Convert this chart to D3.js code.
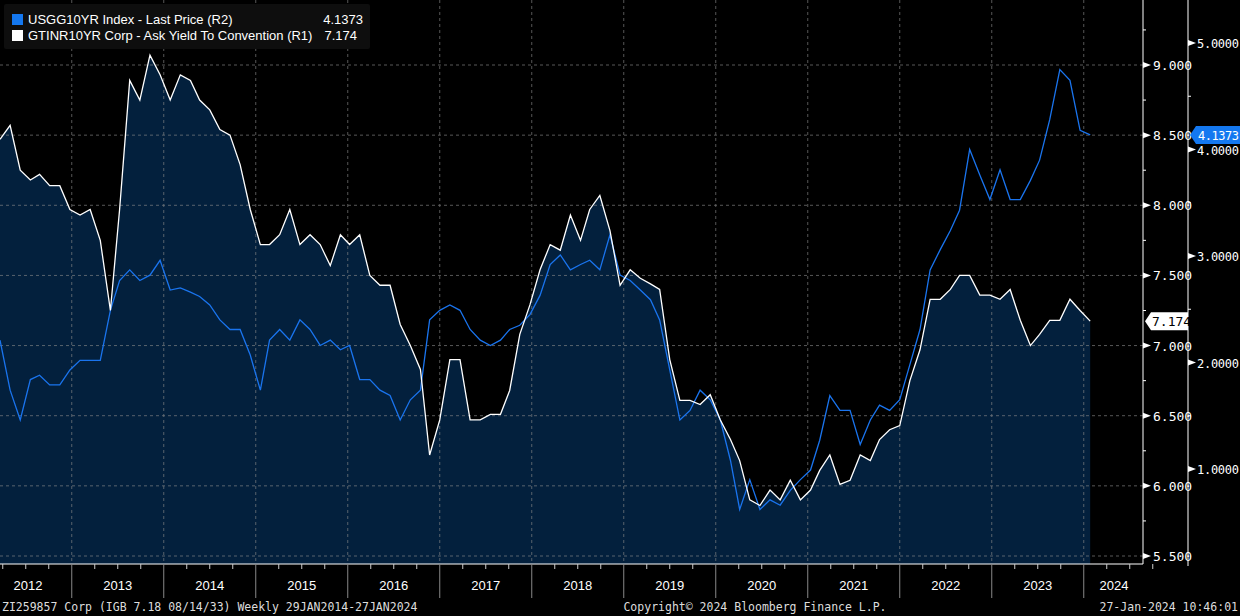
<!DOCTYPE html>
<html><head><meta charset="utf-8">
<script src="https://cdn.jsdelivr.net/npm/d3@7"></script>
<style>body{margin:0;background:#000;}svg{display:block;font-family:"DejaVu Sans Mono",monospace;}</style>
</head><body><svg id="c" width="1240" height="616"></svg>
<script>
const dates=[2012.22,2012.33,2012.44,2012.55,2012.65,2012.76,2012.87,2012.98,2013.09,2013.20,2013.31,2013.42,2013.52,2013.63,2013.74,2013.85,2013.96,2014.07,2014.18,2014.29,2014.39,2014.50,2014.61,2014.72,2014.83,2014.94,2015.05,2015.15,2015.26,2015.37,2015.48,2015.59,2015.70,2015.81,2015.92,2016.02,2016.13,2016.24,2016.35,2016.46,2016.57,2016.68,2016.79,2016.89,2017.00,2017.11,2017.22,2017.33,2017.44,2017.55,2017.66,2017.76,2017.87,2017.98,2018.09,2018.20,2018.31,2018.42,2018.53,2018.63,2018.74,2018.85,2018.96,2019.07,2019.18,2019.29,2019.39,2019.50,2019.61,2019.72,2019.83,2019.94,2020.05,2020.16,2020.26,2020.37,2020.48,2020.59,2020.70,2020.81,2020.92,2021.03,2021.13,2021.24,2021.35,2021.46,2021.57,2021.68,2021.78,2021.89,2022.00,2022.11,2022.22,2022.33,2022.44,2022.55,2022.65,2022.76,2022.87,2022.98,2023.09,2023.20,2023.31,2023.42,2023.52,2023.63,2023.74,2023.85,2023.96,2024.07];
const india=[8.47,8.57,8.25,8.18,8.22,8.14,8.14,7.97,7.93,7.97,7.75,7.25,7.97,8.89,8.75,9.07,8.93,8.75,8.93,8.89,8.75,8.68,8.54,8.50,8.29,7.97,7.72,7.72,7.79,7.97,7.72,7.79,7.72,7.57,7.79,7.72,7.79,7.50,7.43,7.43,7.15,7.00,6.83,6.22,6.47,6.90,6.90,6.47,6.47,6.51,6.51,6.68,7.08,7.29,7.54,7.72,7.68,7.93,7.75,7.97,8.07,7.82,7.43,7.54,7.48,7.44,7.40,6.90,6.61,6.61,6.58,6.65,6.47,6.33,6.18,5.90,5.86,5.97,5.90,6.04,5.90,5.97,6.11,6.22,6.01,6.04,6.22,6.18,6.33,6.40,6.43,6.75,6.97,7.33,7.33,7.40,7.50,7.50,7.36,7.36,7.33,7.40,7.18,7.00,7.08,7.18,7.18,7.33,7.25,7.174];
const us=[2.21,1.74,1.46,1.84,1.88,1.79,1.79,1.93,2.02,2.02,2.02,2.49,2.77,2.87,2.77,2.82,2.96,2.68,2.70,2.66,2.62,2.54,2.40,2.31,2.31,2.07,1.74,2.21,2.31,2.21,2.40,2.31,2.16,2.21,2.12,2.16,1.84,1.84,1.74,1.69,1.46,1.65,1.74,2.40,2.49,2.54,2.49,2.31,2.21,2.16,2.21,2.31,2.35,2.45,2.63,2.92,3.01,2.87,2.92,2.96,2.87,3.20,2.82,2.77,2.68,2.59,2.40,1.93,1.46,1.55,1.74,1.65,1.46,1.08,0.62,0.90,0.62,0.71,0.66,0.80,0.90,0.99,1.27,1.69,1.55,1.55,1.23,1.46,1.60,1.55,1.65,1.98,2.31,2.87,3.06,3.24,3.43,4.00,3.76,3.53,3.81,3.53,3.53,3.71,3.90,4.28,4.75,4.65,4.18,4.1373];
const years=[2012,2013,2014,2015,2016,2017,2018,2019,2020,2021,2022,2023,2024];
const r1Ticks=[5.5,6.0,6.5,7.0,7.5,8.0,8.5,9.0];
const r2Ticks=[1,2,3,4,5];
const legend=[{name:"USGG10YR Index - Last Price (R2)",val:"4.1373",col:"#1478f0"},{name:"GTINR10YR Corp - Ask Yield To Convention (R1)",val:"7.174",col:"#ffffff"}];
const SANS="Liberation Sans, Arial, sans-serif";

const svg=d3.select("#c");
const W=1143,H=564;
const x=d3.scaleLinear().domain([2012.22,2012.22+W/92]).range([0,W]);
const y1=d3.scaleLinear().domain([5.5,9]).range([556,65]);
const y2=d3.scaleLinear().domain([1,5]).range([469,43]);
const dI=dates.map((d,i)=>[d,india[i]]), dU=dates.map((d,i)=>[d,us[i]]);
svg.append("path").datum(dI).attr("fill","#03203d")
 .attr("d",d3.area().x(d=>x(d[0])).y0(H).y1(d=>y1(d[1])));
const g=svg.append("g").attr("stroke","#8a8a8a").attr("stroke-dasharray","3,3").attr("stroke-width",0.8).attr("opacity",0.8);
r1Ticks.forEach(t=>g.append("line").attr("x1",0).attr("x2",W).attr("y1",y1(t)).attr("y2",y1(t)));
years.slice(1).forEach(t=>g.append("line").attr("x1",x(t)).attr("x2",x(t)).attr("y1",0).attr("y2",H));
svg.append("path").datum(dU).attr("fill","none").attr("stroke","#1a74ee").attr("stroke-width",1.3)
 .attr("d",d3.line().x(d=>x(d[0])).y(d=>y2(d[1])));
svg.append("path").datum(dI).attr("fill","none").attr("stroke","#fff").attr("stroke-width",1.3)
 .attr("d",d3.line().x(d=>x(d[0])).y(d=>y1(d[1])));
svg.append("line").attr("x1",0).attr("x2",W).attr("y1",H).attr("y2",H).attr("stroke","#fff");
svg.append("line").attr("x1",W).attr("x2",W).attr("y1",0).attr("y2",H).attr("stroke","#fff");
svg.append("line").attr("x1",1188).attr("x2",1188).attr("y1",0).attr("y2",566).attr("stroke","#fff");
r1Ticks.forEach(t=>{const yy=y1(t);
 svg.append("path").attr("d",`M${W},${yy-3}L${W+8},${yy}L${W},${yy+3}Z`).attr("fill","#fff");
 svg.append("text").attr("x",W+10).attr("y",yy+5).attr("fill","#fff").attr("font-size",13).text(t.toFixed(3));
 svg.append("line").attr("x1",W).attr("x2",W+3).attr("y1",y1(t+0.25)).attr("y2",y1(t+0.25)).attr("stroke","#fff");
});
r2Ticks.forEach(t=>{const yy=y2(t);
 svg.append("path").attr("d",`M1188,${yy-3}L1196,${yy}L1188,${yy+3}Z`).attr("fill","#fff");
 svg.append("text").attr("x",1197).attr("y",yy+5).attr("fill","#fff").attr("font-size",12).attr("textLength",42).text(t.toFixed(4));
 svg.append("line").attr("x1",1188).attr("x2",1191).attr("y1",y2(t+0.5)).attr("y2",y2(t+0.5)).attr("stroke","#fff");
});
years.forEach(yr=>{
 svg.append("line").attr("x1",x(yr)).attr("x2",x(yr)).attr("y1",H).attr("y2",598).attr("stroke","#888");
 for(let q=1;q<4;q++) svg.append("line").attr("x1",x(yr+q/4)).attr("x2",x(yr+q/4)).attr("y1",H).attr("y2",H+5).attr("stroke","#ccc");
 svg.append("text").attr("x",yr===2012?28:(yr===2024?1114:x(yr+0.5))).attr("y",590).attr("text-anchor","middle").attr("fill","#fff").attr("font-size",13).style("font-family",SANS).text(yr);
});
const ly=y2(4.1373);
svg.append("path").attr("d",`M1190,${ly}L1196,${ly-9}H1240V${ly+9}H1196Z`).attr("fill","#1478f0");
svg.append("text").attr("x",1198).attr("y",ly+5).attr("fill","#fff").attr("font-size",12).attr("textLength",41).text("4.1373");
const wy=y1(7.174);
svg.append("path").attr("d",`M1145,${wy}L1151,${wy-9}H1188V${wy+9}H1151Z`).attr("fill","#fff");
svg.append("text").attr("x",1152).attr("y",wy+5).attr("fill","#000").attr("font-size",13).text("7.174");
svg.append("rect").attr("x",4).attr("y",4).attr("width",366).attr("height",45).attr("fill","#0e0e0e").attr("rx",2);
legend.forEach((l,i)=>{const yy=14+i*16;
 svg.append("rect").attr("x",12).attr("y",yy).attr("width",11).attr("height",11).attr("fill",l.col);
 svg.append("text").attr("x",28).attr("y",yy+10).attr("fill","#fff").attr("font-size",13).style("font-family",SANS).text(l.name);
 svg.append("text").attr("x",i===0?363:357).attr("y",yy+10).attr("text-anchor","end").attr("fill","#fff").attr("font-size",13).style("font-family",SANS).text(l.val);
});
const f=svg.append("g").attr("fill","#ddd").attr("font-size",11.5);
f.append("text").attr("x",2).attr("y",611).text("ZI259857 Corp (IGB 7.18 08/14/33)  Weekly 29JAN2014-27JAN2024");
f.append("text").attr("x",755).attr("y",611).attr("text-anchor","middle").text("Copyright© 2024 Bloomberg Finance L.P.");
f.append("text").attr("x",1238).attr("y",611).attr("text-anchor","end").text("27-Jan-2024 10:46:01");
</script></body></html>
